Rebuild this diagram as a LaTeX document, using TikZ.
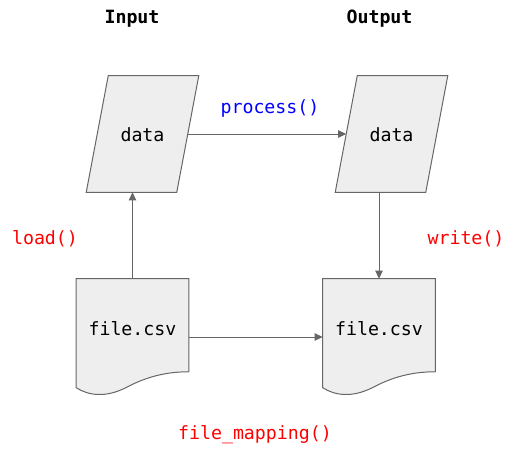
\documentclass[tikz,border=0pt]{standalone}
\usepackage{fontspec}
\setmonofont{DejaVu Sans Mono}
\usetikzlibrary{calc,arrows.meta}
\definecolor{boxfill}{HTML}{EEEEEE}
\definecolor{linegray}{HTML}{666666}
\definecolor{fnblue}{HTML}{0000FF}
\definecolor{fnred}{HTML}{FF0000}
\newcommand\mydocshape[1]{%
  \draw[shapeline] (#1.north west) -- (#1.north east) -- ($(#1.north east)+(0,93)$)
    .. controls ($(#1.north east)+(-28,93)$) and ($(#1.north east)+(-48,101)$) .. ($(#1.north east)+(-63,109)$)
    .. controls ($(#1.north east)+(-83,119)$) and ($(#1.north east)+(-100,117)$) .. ($(#1.north west)+(0,109)$) -- cycle;}
\newcommand\myparashape[1]{%
  \draw[shapeline] ($(#1.south west)+(-11,0)$) -- ($(#1.south east)+(-11,0)$) -- ($(#1.north east)+(11,0)$) -- ($(#1.north west)+(11,0)$) -- cycle;}
\begin{document}
\begin{tikzpicture}[x=0.75pt,y=-0.75pt,
  txt/.style={font=\ttfamily\fontsize{13.7}{16}\selectfont, inner sep=0pt},
  ttl/.style={txt, font=\ttfamily\bfseries\fontsize{13.7}{16}\selectfont},
  shapeline/.style={draw=linegray, fill=boxfill, line width=0.75pt},
  parabox/.style={minimum width=90*0.75pt, minimum height=116*0.75pt, inner sep=0pt},
  docbox/.style={minimum width=112*0.75pt, minimum height=116*0.75pt, inner sep=0pt},
  conn/.style={draw=linegray, line width=0.75pt, -{Triangle[length=6pt,width=5.5pt]}},
  fnb/.style={txt, text=fnblue},
  fnr/.style={txt, text=fnred}]
\useasboundingbox (0,0) rectangle (518,451);
% frames
\node[parabox] (dataL) at (142.5,134) {};
\node[parabox] (dataR) at (391.5,134) {};
\node[docbox] (docL) at (132.5,337) {};
\node[docbox] (docR) at (379,337) {};
\myparashape{dataL}
\myparashape{dataR}
\mydocshape{docL}
\mydocshape{docR}
% texts
\node[txt] (dataLt) at (142.5,135) {data};
\node[txt] (dataRt) at (391.5,135) {data};
\node[txt] (docLt) at (132.5,328.5) {file.csv};
\node[txt] (docRt) at (379,328.5) {file.csv};
\node[ttl] (inT) at (132,18.5) {Input};
\node[ttl] (outT) at (379.5,18.5) {Output};
\node[fnb] (proc) at (270,108.5) {process()};
\node[fnr] (load) at (45,239) {load()};
\node[fnr] (write) at (466,239) {write()};
\node[fnr] (fmap) at (255,435) {file\_mapping()};
% connectors
\draw[conn] (dataL.east) -- (dataR.west);
\draw[conn] (docL.north) -- (docL.north |- dataL.south);
\draw[conn] (docR.north |- dataR.south) -- (docR.north);
\draw[conn] (docL.east) -- (docR.west);
\end{tikzpicture}
\end{document}
